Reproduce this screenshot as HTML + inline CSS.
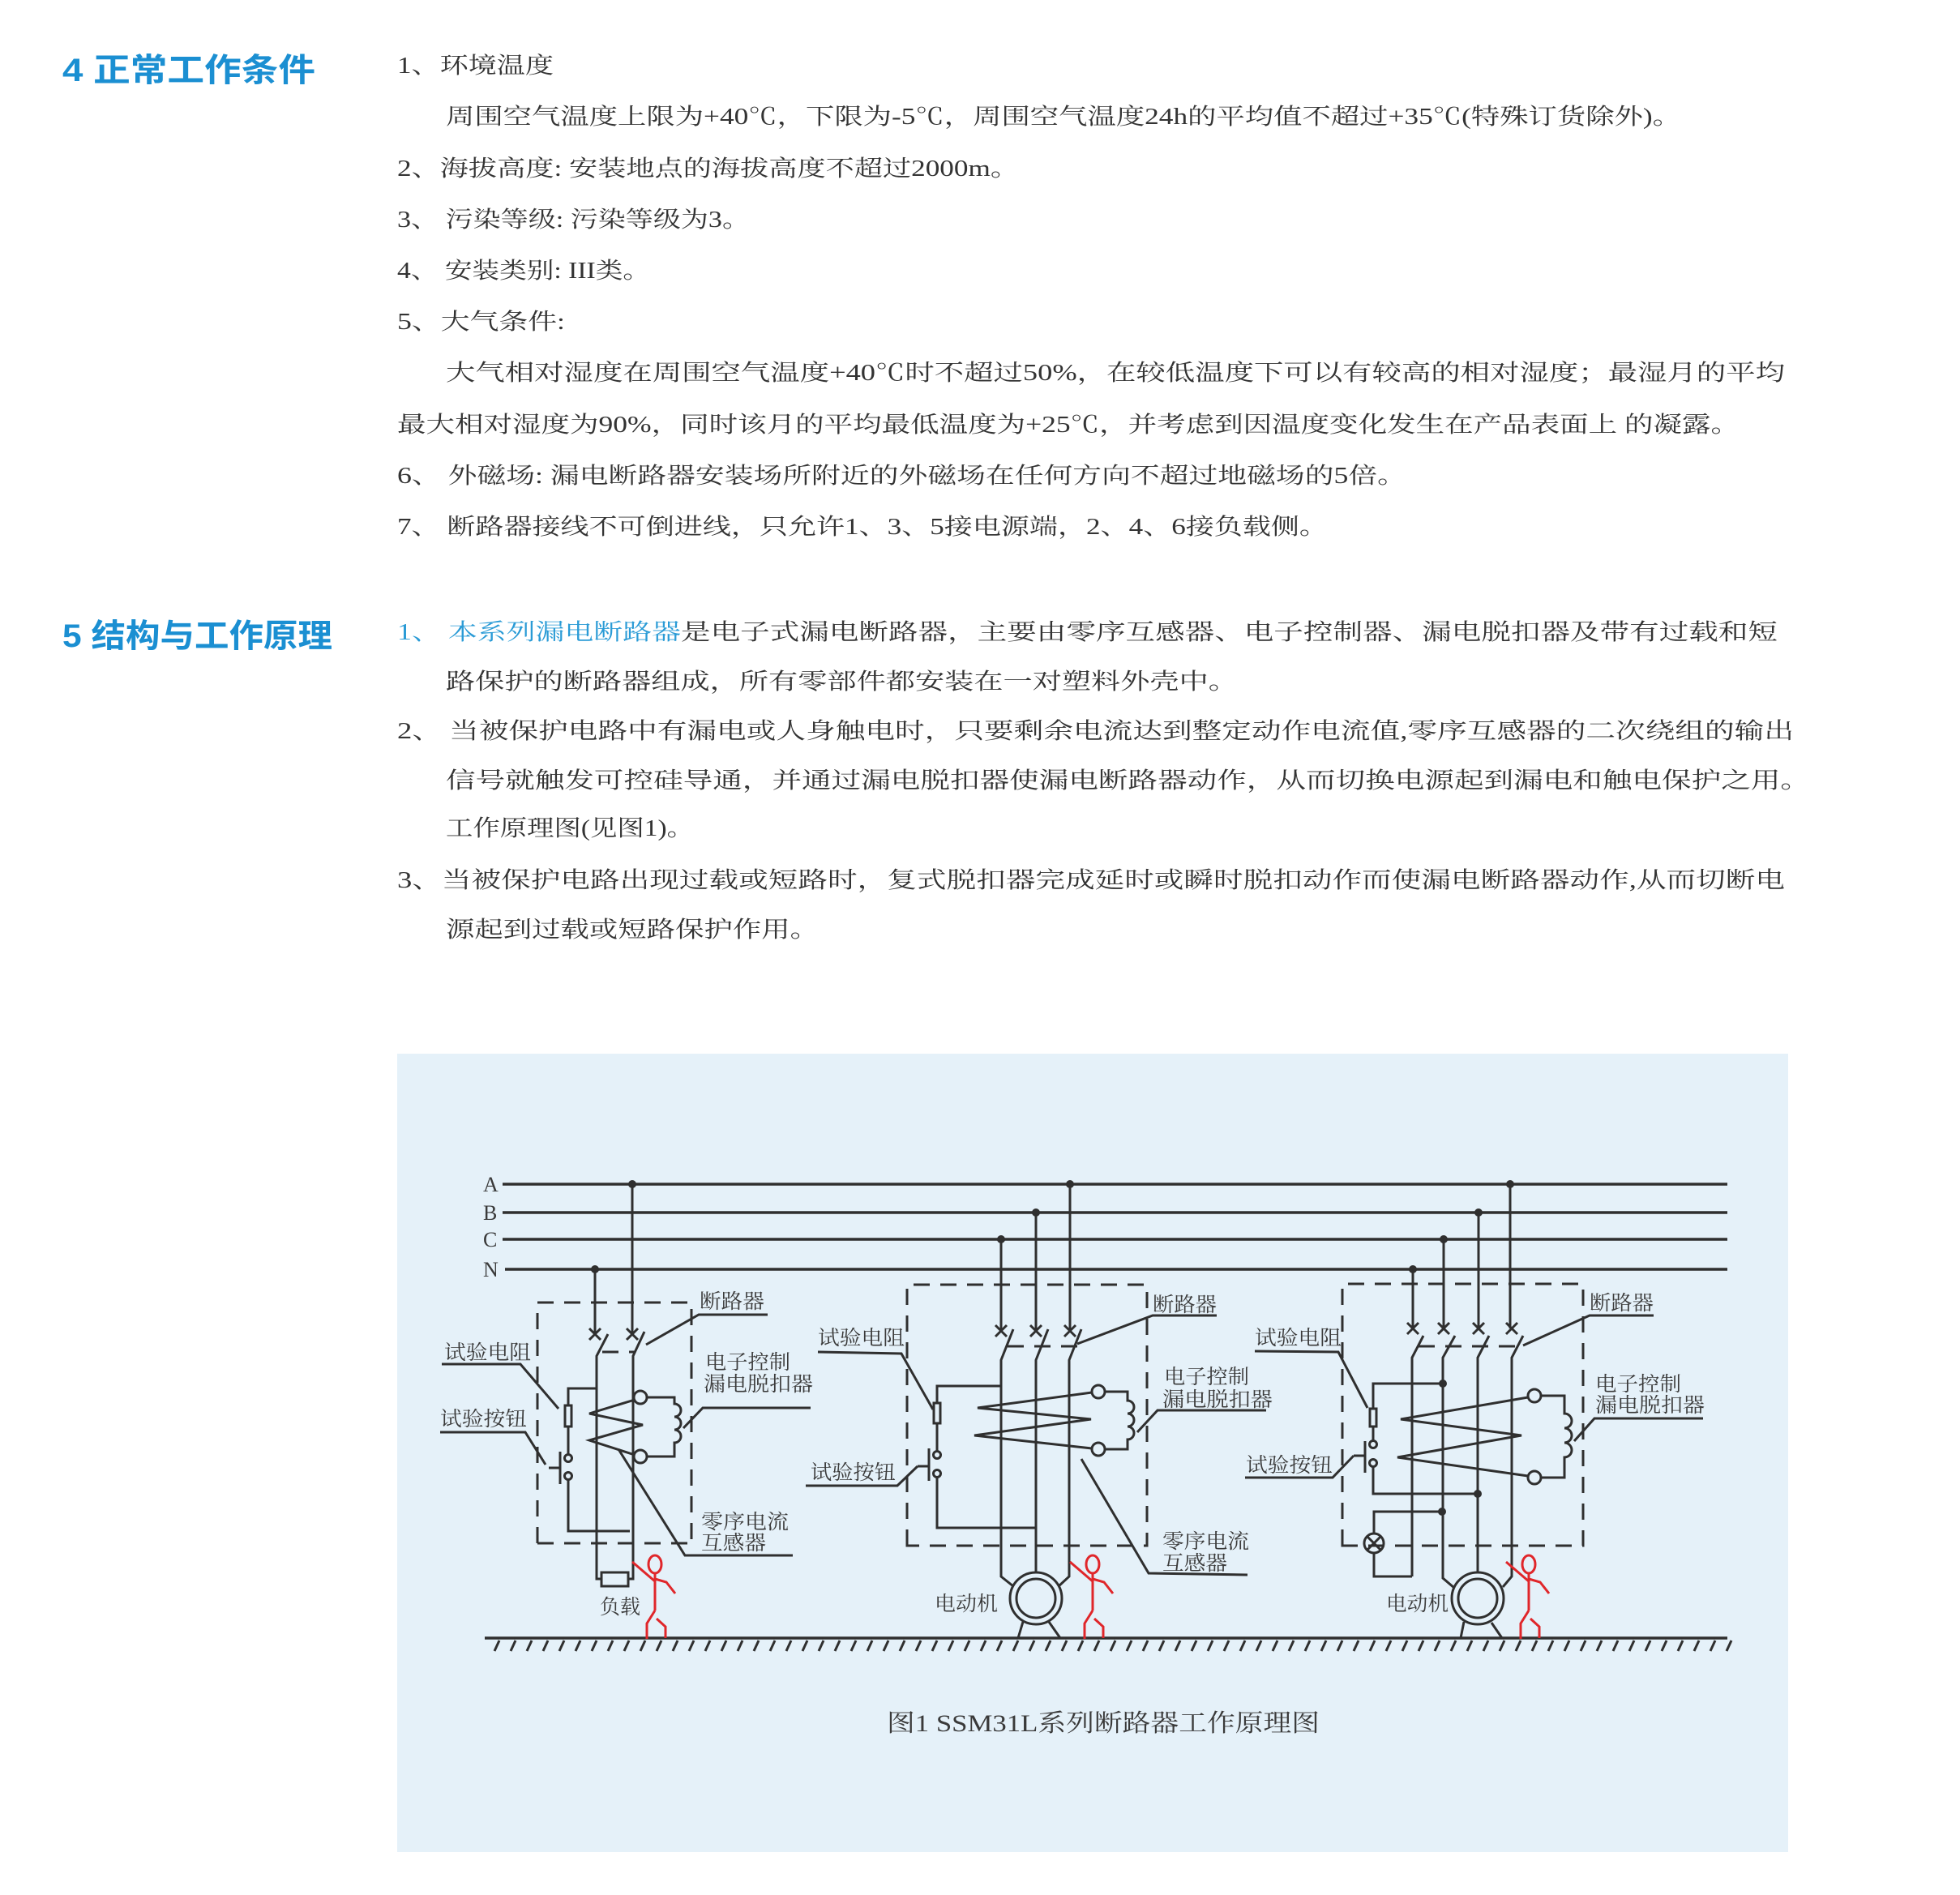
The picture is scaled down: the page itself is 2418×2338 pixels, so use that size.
<!DOCTYPE html>
<html><head><meta charset="utf-8"><style>
html,body{margin:0;padding:0;background:#fff;}
svg{display:block;}
.b{font-family:"Liberation Serif","Noto Serif CJK SC",serif;font-size:28px;fill:#333;}
.h{font-family:"Liberation Sans","Noto Sans CJK SC",sans-serif;font-size:40px;font-weight:bold;fill:#1b8fd2;}
.l{font-family:"Liberation Serif","Noto Serif CJK SC",serif;font-size:25px;fill:#3a3a3a;}
.w{stroke:#2f2f2f;stroke-width:3;fill:none;}
.d{stroke:#2f2f2f;stroke-width:3;fill:none;stroke-dasharray:20 13;}
.p{stroke:#e0262a;stroke-width:3;fill:none;}
</style></head><body>
<svg width="2418" height="2338" viewBox="0 0 2418 2338" xmlns="http://www.w3.org/2000/svg">
<rect width="2418" height="2338" fill="#fff"/>
<text class="h" x="77" y="100" textLength="312" lengthAdjust="spacingAndGlyphs">4 正常工作条件</text>
<text class="h" x="77" y="798" textLength="333" lengthAdjust="spacingAndGlyphs">5 结构与工作原理</text>
<g class="b">
<text x="490" y="90" textLength="193" lengthAdjust="spacingAndGlyphs">1、环境温度</text>
<text x="550" y="153" textLength="1524" lengthAdjust="spacingAndGlyphs">周围空气温度上限为+40℃，下限为-5℃，周围空气温度24h的平均值不超过+35℃(特殊订货除外)。</text>
<text x="490" y="217" textLength="767" lengthAdjust="spacingAndGlyphs">2、海拔高度: 安装地点的海拔高度不超过2000m。</text>
<text x="490" y="280" textLength="435" lengthAdjust="spacingAndGlyphs">3、 污染等级: 污染等级为3。</text>
<text x="490" y="343" textLength="312" lengthAdjust="spacingAndGlyphs">4、 安装类别: III类。</text>
<text x="490" y="406" textLength="207" lengthAdjust="spacingAndGlyphs">5、大气条件:</text>
<text x="550" y="469" textLength="1652" lengthAdjust="spacingAndGlyphs">大气相对湿度在周围空气温度+40℃时不超过50%，在较低温度下可以有较高的相对湿度；最湿月的平均</text>
<text x="490" y="533" textLength="1656" lengthAdjust="spacingAndGlyphs">最大相对湿度为90%，同时该月的平均最低温度为+25℃，并考虑到因温度变化发生在产品表面上 的凝露。</text>
<text x="490" y="596" textLength="1245" lengthAdjust="spacingAndGlyphs">6、 外磁场: 漏电断路器安装场所附近的外磁场在任何方向不超过地磁场的5倍。</text>
<text x="490" y="659" textLength="1148" lengthAdjust="spacingAndGlyphs">7、 断路器接线不可倒进线，只允许1、3、5接电源端，2、4、6接负载侧。</text>
<text x="490" y="789" textLength="350" lengthAdjust="spacingAndGlyphs" style="fill:#2a9bd6">1、 本系列漏电断路器</text>
<text x="840" y="789" textLength="1353" lengthAdjust="spacingAndGlyphs">是电子式漏电断路器，主要由零序互感器、电子控制器、漏电脱扣器及带有过载和短</text>
<text x="550" y="850" textLength="977" lengthAdjust="spacingAndGlyphs">路保护的断路器组成，所有零部件都安装在一对塑料外壳中。</text>
<text x="490" y="911" textLength="1723" lengthAdjust="spacingAndGlyphs">2、 当被保护电路中有漏电或人身触电时，只要剩余电流达到整定动作电流值,零序互感器的二次绕组的输出</text>
<text x="550" y="972" textLength="1683" lengthAdjust="spacingAndGlyphs">信号就触发可控硅导通，并通过漏电脱扣器使漏电断路器动作，从而切换电源起到漏电和触电保护之用。</text>
<text x="550" y="1031" textLength="306" lengthAdjust="spacingAndGlyphs">工作原理图(见图1)。</text>
<text x="490" y="1095" textLength="1712" lengthAdjust="spacingAndGlyphs">3、当被保护电路出现过载或短路时，复式脱扣器完成延时或瞬时脱扣动作而使漏电断路器动作,从而切断电</text>
<text x="550" y="1156" textLength="460" lengthAdjust="spacingAndGlyphs">源起到过载或短路保护作用。</text>
</g>

<rect x="490" y="1300" width="1716" height="985" fill="#e5f1f9"/>

<!-- bus lines -->
<g class="l" style="font-size:26px">
<text x="596" y="1470">A</text><text x="596" y="1505">B</text><text x="596" y="1538">C</text><text x="596" y="1575">N</text>
</g>
<g stroke="#2f2f2f" stroke-width="3.5">
<line x1="620" y1="1461" x2="2131" y2="1461"/>
<line x1="620" y1="1496" x2="2131" y2="1496"/>
<line x1="620" y1="1529" x2="2131" y2="1529"/>
<line x1="623" y1="1566" x2="2131" y2="1566"/>
</g>
<g fill="#2f2f2f">
<circle cx="780" cy="1461" r="5"/><circle cx="734" cy="1566" r="5"/>
<circle cx="1235" cy="1529" r="5"/><circle cx="1278" cy="1496" r="5"/><circle cx="1320" cy="1461" r="5"/>
<circle cx="1743" cy="1566" r="5"/><circle cx="1781" cy="1529" r="5"/><circle cx="1824" cy="1496" r="5"/><circle cx="1863" cy="1461" r="5"/>
<circle cx="1780" cy="1707" r="5"/><circle cx="1823" cy="1843" r="5"/><circle cx="1779" cy="1865" r="5"/>
</g>

<!-- ground -->
<line x1="598" y1="2021" x2="2131" y2="2021" stroke="#2f2f2f" stroke-width="3.5"/>
<path class="w" stroke-width="2" d="M616 2024 L610 2037 M636 2024 L630 2037 M656 2024 L650 2037 M676 2024 L670 2037 M696 2024 L690 2037 M716 2024 L710 2037 M736 2024 L730 2037 M756 2024 L750 2037 M776 2024 L770 2037 M796 2024 L790 2037 M816 2024 L810 2037 M836 2024 L830 2037 M856 2024 L850 2037 M876 2024 L870 2037 M896 2024 L890 2037 M916 2024 L910 2037 M936 2024 L930 2037 M956 2024 L950 2037 M976 2024 L970 2037 M996 2024 L990 2037 M1016 2024 L1010 2037 M1036 2024 L1030 2037 M1056 2024 L1050 2037 M1076 2024 L1070 2037 M1096 2024 L1090 2037 M1116 2024 L1110 2037 M1136 2024 L1130 2037 M1156 2024 L1150 2037 M1176 2024 L1170 2037 M1196 2024 L1190 2037 M1216 2024 L1210 2037 M1236 2024 L1230 2037 M1256 2024 L1250 2037 M1276 2024 L1270 2037 M1296 2024 L1290 2037 M1316 2024 L1310 2037 M1336 2024 L1330 2037 M1356 2024 L1350 2037 M1376 2024 L1370 2037 M1396 2024 L1390 2037 M1416 2024 L1410 2037 M1436 2024 L1430 2037 M1456 2024 L1450 2037 M1476 2024 L1470 2037 M1496 2024 L1490 2037 M1516 2024 L1510 2037 M1536 2024 L1530 2037 M1556 2024 L1550 2037 M1576 2024 L1570 2037 M1596 2024 L1590 2037 M1616 2024 L1610 2037 M1636 2024 L1630 2037 M1656 2024 L1650 2037 M1676 2024 L1670 2037 M1696 2024 L1690 2037 M1716 2024 L1710 2037 M1736 2024 L1730 2037 M1756 2024 L1750 2037 M1776 2024 L1770 2037 M1796 2024 L1790 2037 M1816 2024 L1810 2037 M1836 2024 L1830 2037 M1856 2024 L1850 2037 M1876 2024 L1870 2037 M1896 2024 L1890 2037 M1916 2024 L1910 2037 M1936 2024 L1930 2037 M1956 2024 L1950 2037 M1976 2024 L1970 2037 M1996 2024 L1990 2037 M2016 2024 L2010 2037 M2036 2024 L2030 2037 M2056 2024 L2050 2037 M2076 2024 L2070 2037 M2096 2024 L2090 2037 M2116 2024 L2110 2037 M2136 2024 L2130 2037"/>

<!-- ===== Circuit 1 ===== -->
<path class="d" d="M663 1904 L663 1607 L853 1607 L853 1904"/>
<path class="d" stroke-width="4" d="M663 1904 L853 1904"/>
<path class="w" d="M734 1566 L734 1646 M780 1461 L780 1646"/>
<path class="w" d="M727 1639 L741 1653 M741 1639 L727 1653 M773 1639 L787 1653 M787 1639 L773 1653"/>
<path class="w" d="M750 1646 L736 1673 L736 1948 L742 1948 M795 1643 L781 1673 L781 1948 L775 1948"/>
<path class="d" stroke-dasharray="8 5" d="M743 1668 L783 1668"/>
<rect x="742" y="1940" width="33" height="17" class="w"/>
<path class="w" d="M797 1659 L862 1622 L947 1622"/>
<path class="w" d="M736 1713 L701 1713 L701 1734 M701 1760 L701 1795 M701 1825 L701 1889 L777 1889"/>
<rect x="697" y="1734" width="8" height="26" class="w" stroke-width="2.5"/>
<circle cx="701" cy="1799" r="4.5" class="w" stroke-width="2.5"/><circle cx="701" cy="1821" r="4.5" class="w" stroke-width="2.5"/>
<path class="w" d="M691 1791 L691 1831 M677 1811 L691 1811"/>
<path class="w" d="M545 1683 L642 1683 L689 1738 M543 1767 L648 1767 L673 1807"/>
<circle cx="790" cy="1724" r="8" class="w"/><circle cx="790" cy="1797" r="8" class="w"/>
<path class="w" d="M783 1727 L727 1744 L793 1758 L727 1777 L783 1795"/>
<path class="w" d="M798 1724 L832 1724 L832 1732 a8 8 0 0 1 0 16 a8 8 0 0 1 0 16 a8 8 0 0 1 0 16 L832 1797 L798 1797"/>
<path class="w" d="M843 1762 L867 1737 L1000 1737"/>
<path class="w" d="M763 1788 L845 1919 L978 1919"/>
<g class="l">
<text x="863" y="1614" textLength="80" lengthAdjust="spacingAndGlyphs">断路器</text>
<text x="548" y="1677" textLength="107" lengthAdjust="spacingAndGlyphs">试验电阻</text>
<text x="543" y="1759" textLength="107" lengthAdjust="spacingAndGlyphs">试验按钮</text>
<text x="870" y="1689" textLength="105" lengthAdjust="spacingAndGlyphs">电子控制</text>
<text x="868" y="1716" textLength="135" lengthAdjust="spacingAndGlyphs">漏电脱扣器</text>
<text x="865" y="1886" textLength="108" lengthAdjust="spacingAndGlyphs">零序电流</text>
<text x="865" y="1912" textLength="80" lengthAdjust="spacingAndGlyphs">互感器</text>
<text x="740" y="1991" textLength="50" lengthAdjust="spacingAndGlyphs">负载</text>
</g>

<!-- ===== Circuit 2 ===== -->
<path class="d" d="M1119 1907 L1119 1585 L1415 1585 L1415 1907 Z"/>
<path class="w" d="M1235 1529 L1235 1642 M1278 1496 L1278 1642 M1320 1461 L1320 1642"/>
<path class="w" d="M1228 1635 L1242 1649 M1242 1635 L1228 1649 M1271 1635 L1285 1649 M1285 1635 L1271 1649 M1313 1635 L1327 1649 M1327 1635 L1313 1649"/>
<path class="w" d="M1250 1640 L1235 1678 L1235 1945 L1250 1957 M1293 1640 L1278 1678 L1278 1940 M1334 1640 L1319 1678 L1319 1945 L1306 1957"/>
<path class="d" stroke-dasharray="8 5" d="M1243 1661 L1331 1661"/>
<circle cx="1278" cy="1972" r="32" class="w"/><circle cx="1278" cy="1972" r="24" class="w"/>
<path class="w" d="M1262 2001 L1256 2021 M1294 2001 L1308 2021"/>
<path class="w" d="M1329 1658 L1422 1623 L1501 1623"/>
<path class="w" d="M1235 1710 L1156 1710 L1156 1731 M1156 1756 L1156 1791 M1156 1822 L1156 1885 L1278 1885"/>
<rect x="1152" y="1731" width="8" height="25" class="w" stroke-width="2.5"/>
<circle cx="1156" cy="1795" r="4.5" class="w" stroke-width="2.5"/><circle cx="1156" cy="1818" r="4.5" class="w" stroke-width="2.5"/>
<path class="w" d="M1146 1787 L1146 1827 M1132 1809 L1146 1809"/>
<path class="w" d="M994 1833 L1107 1833 L1132 1809 M1009 1668 L1112 1670 L1151 1739"/>
<circle cx="1355" cy="1717" r="8" class="w"/><circle cx="1355" cy="1788" r="8" class="w"/>
<path class="w" d="M1347 1718 L1206 1737 L1346 1751 L1202 1771 L1347 1787"/>
<path class="w" d="M1363 1717 L1391 1717 L1391 1728 a8 8 0 0 1 0 16 a8 8 0 0 1 0 16 a8 8 0 0 1 0 16 L1391 1788 L1363 1788"/>
<path class="w" d="M1403 1767 L1428 1740 L1562 1740"/>
<path class="w" d="M1334 1800 L1417 1941 L1539 1943"/>
<g class="l">
<text x="1009" y="1659" textLength="107" lengthAdjust="spacingAndGlyphs">试验电阻</text>
<text x="1000" y="1825" textLength="105" lengthAdjust="spacingAndGlyphs">试验按钮</text>
<text x="1422" y="1618" textLength="79" lengthAdjust="spacingAndGlyphs">断路器</text>
<text x="1436" y="1707" textLength="105" lengthAdjust="spacingAndGlyphs">电子控制</text>
<text x="1434" y="1735" textLength="136" lengthAdjust="spacingAndGlyphs">漏电脱扣器</text>
<text x="1434" y="1910" textLength="107" lengthAdjust="spacingAndGlyphs">零序电流</text>
<text x="1434" y="1937" textLength="80" lengthAdjust="spacingAndGlyphs">互感器</text>
<text x="1153" y="1987" textLength="78" lengthAdjust="spacingAndGlyphs">电动机</text>
</g>

<!-- ===== Circuit 3 ===== -->
<path class="d" d="M1656 1907 L1656 1584 L1953 1584 L1953 1907 Z"/>
<path class="w" d="M1743 1566 L1743 1639 M1781 1529 L1781 1639 M1824 1496 L1824 1639 M1863 1461 L1863 1639"/>
<path class="w" d="M1736 1632 L1750 1646 M1750 1632 L1736 1646 M1774 1632 L1788 1646 M1788 1632 L1774 1646 M1817 1632 L1831 1646 M1831 1632 L1817 1646 M1858 1632 L1872 1646 M1872 1632 L1858 1646"/>
<path class="w" d="M1756 1648 L1742 1675 L1742 1945 M1795 1648 L1780 1675 L1780 1947 L1794 1959 M1837 1648 L1823 1675 L1823 1940 M1879 1648 L1865 1675 L1865 1945 L1854 1958"/>
<path class="d" stroke-dasharray="8 5" d="M1750 1661 L1873 1661"/>
<circle cx="1823" cy="1972" r="32" class="w"/><circle cx="1823" cy="1972" r="24" class="w"/>
<path class="w" d="M1806 2001 L1802 2021 M1840 2002 L1853 2021"/>
<path class="w" d="M1879 1660 L1961 1623 L2040 1623"/>
<path class="w" d="M1780 1707 L1694 1707 L1694 1738 M1694 1760 L1694 1778 M1694 1809 L1694 1843 L1823 1843"/>
<rect x="1690" y="1738" width="8" height="22" class="w" stroke-width="2.5"/>
<circle cx="1694" cy="1782" r="4.5" class="w" stroke-width="2.5"/><circle cx="1694" cy="1805" r="4.5" class="w" stroke-width="2.5"/>
<path class="w" d="M1684 1778 L1684 1817 M1670 1796 L1684 1796"/>
<path class="w" d="M1536 1823 L1644 1823 L1670 1796 M1548 1667 L1651 1668 L1687 1737"/>
<path class="w" d="M1779 1865 L1695 1865 L1695 1892 M1695 1916 L1695 1945 L1742 1945"/>
<circle cx="1695" cy="1904" r="12" class="w"/>
<path class="w" d="M1687 1896 L1703 1912 M1703 1896 L1687 1912"/>
<circle cx="1893" cy="1722" r="8" class="w"/><circle cx="1893" cy="1823" r="8" class="w"/>
<path class="w" d="M1885 1724 L1728 1751 L1877 1771 L1724 1798 L1885 1821"/>
<path class="w" d="M1901 1722 L1930 1722 L1930 1744 a9 9 0 0 1 0 18 a9 9 0 0 1 0 18 a9 9 0 0 1 0 18 L1930 1823 L1901 1823"/>
<path class="w" d="M1942 1778 L1967 1750 L2101 1750"/>
<g class="l">
<text x="1548" y="1659" textLength="107" lengthAdjust="spacingAndGlyphs">试验电阻</text>
<text x="1537" y="1816" textLength="107" lengthAdjust="spacingAndGlyphs">试验按钮</text>
<text x="1961" y="1616" textLength="79" lengthAdjust="spacingAndGlyphs">断路器</text>
<text x="1968" y="1716" textLength="106" lengthAdjust="spacingAndGlyphs">电子控制</text>
<text x="1968" y="1742" textLength="135" lengthAdjust="spacingAndGlyphs">漏电脱扣器</text>
<text x="1710" y="1987" textLength="77" lengthAdjust="spacingAndGlyphs">电动机</text>
</g>

<!-- persons -->
<g id="pp">
<ellipse cx="808" cy="1930" rx="8" ry="11" class="p"/>
<path class="p" d="M780 1927 L808 1951 M808 1941 L808 1987 M808 1948 L822 1952 L833 1966 M808 1987 L798 2003 L798 2022 M810 1997 L821 2007 L821 2021"/>
</g>
<g transform="translate(540,0)">
<ellipse cx="808" cy="1930" rx="8" ry="11" class="p"/>
<path class="p" d="M780 1927 L808 1951 M808 1941 L808 1987 M808 1948 L822 1952 L833 1966 M808 1987 L798 2003 L798 2022 M810 1997 L821 2007 L821 2021"/>
</g>
<g transform="translate(1078,0)">
<ellipse cx="808" cy="1930" rx="8" ry="11" class="p"/>
<path class="p" d="M780 1927 L808 1951 M808 1941 L808 1987 M808 1948 L822 1952 L833 1966 M808 1987 L798 2003 L798 2022 M810 1997 L821 2007 L821 2021"/>
</g>

<text class="l" x="1094" y="2136" style="font-size:30px" textLength="534" lengthAdjust="spacingAndGlyphs">图1  SSM31L系列断路器工作原理图</text>
</svg>
</body></html>
